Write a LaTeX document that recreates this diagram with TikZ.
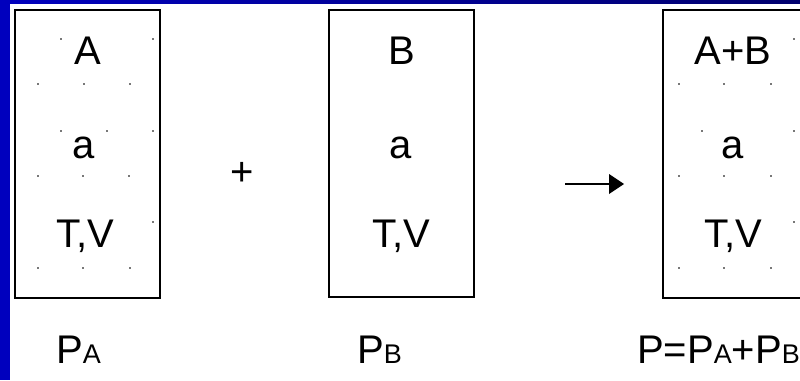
\documentclass[tikz,border=0pt]{standalone}
\usepackage{fontspec}
\setmainfont{Liberation Sans}
\definecolor{frameblue}{RGB}{0,0,190}
\definecolor{framenavy}{RGB}{0,0,110}
\definecolor{dotgray}{RGB}{120,120,120}
\newcommand{\sm}[1]{{\fontsize{27}{27}\selectfont #1}}
\begin{document}
\begin{tikzpicture}[x=1pt,y=-1pt,
  big/.style={font=\fontsize{40}{40}\selectfont, inner sep=0pt, anchor=base},
  bigw/.style={font=\fontsize{40}{40}\selectfont, inner sep=0pt, anchor=base west},
  boxst/.style={draw=black, line width=1.4pt},
  gdot/.style={fill=dotgray, draw=none}]
\useasboundingbox (0,0) rectangle (800,380);
\fill[white] (0,0) rectangle (800,380);
% blue frame
\fill[frameblue] (0,0) rectangle (10,380);
\shade[left color=frameblue, right color=framenavy] (0,0) rectangle (800,3);
% boxes
\draw[boxst] (15,10) rectangle (160,298);
\draw[boxst] (329,10) rectangle (474,297);
\draw[boxst] (663,10) rectangle (810,298);
% grid dots, box A
\foreach \p in {(61,39),(153,39),(38,84),(84,84),(130,84),(61,131),(107,131),(153,131),
  (38,176),(83,176),(129,176),(153,222),(38,268),(83,268),(130,268)}
  \fill[gdot] \p ++(-0.6,-0.6) rectangle ++(1.2,1.2);
% grid dots, box C
\foreach \p in {(794,39),(679,84),(724,84),(771,84),(702,131),(794,131),
  (679,176),(724,176),(771,176),(794,222),(679,268),(724,268),(771,268)}
  \fill[gdot] \p ++(-0.6,-0.6) rectangle ++(1.2,1.2);
% texts box A
\node[big] (tA1) at (87.5,64) {A};
\node[big] (tA2) at (84,158) {a};
\node[big] (tA3) at (85,247) {T,V};
% texts box B
\node[big] (tB1) at (402,64) {B};
\node[big] (tB2) at (401,158) {a};
\node[big] (tB3) at (401,247) {T,V};
% texts box C
\node[big] (tC1) at (733,64) {A+B};
\node[big] (tC2) at (733,158) {a};
\node[big] (tC3) at (733,247) {T,V};
% operators
\node[big] (plus) at (242,185) {+};
\coordinate (arS) at (565,184);
\coordinate (arE) at (624,184);
\draw[line width=1.5pt] (arS) -- ([xshift=-12pt]arE);
\fill[black] (arE) -- ++(-15,-10) -- ++(0,20) -- cycle;
% labels
\node[bigw] (pa) at (56,363) {P\sm{A}};
\node[bigw] (pb) at (357,363) {P\sm{B}};
\node[bigw] (p) at (637,363) {P=P\sm{A}+P\sm{B}};
\end{tikzpicture}
\end{document}
